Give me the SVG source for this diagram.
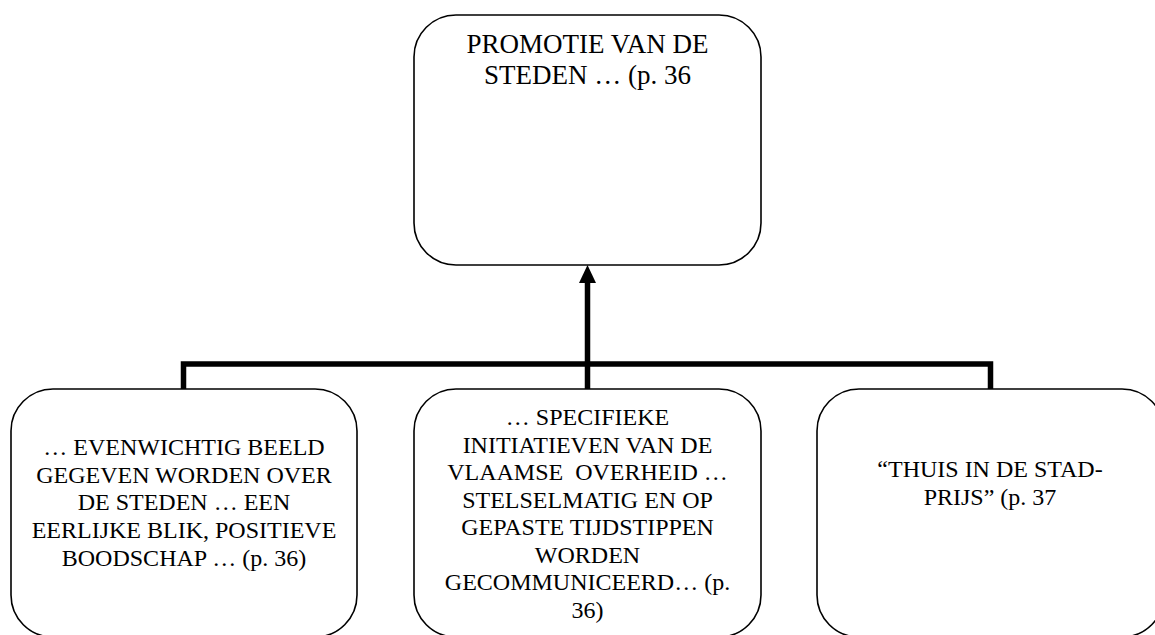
<svg xmlns="http://www.w3.org/2000/svg" width="1155" height="635" viewBox="0 0 1155 635">
<style>
.box{fill:#fff;stroke:#000;stroke-width:1.6}
text{font-family:'Liberation Serif','Times New Roman',serif;fill:#000;text-anchor:middle;white-space:pre}
.t1{font-size:27px}
.t2{font-size:24px}
.conn{fill:none;stroke:#000;stroke-width:5.5}
</style>
<defs>
<marker id="ah" markerUnits="userSpaceOnUse" markerWidth="18" markerHeight="18" viewBox="0 0 18 18" refX="8" refY="9" orient="auto">
<path d="M0,0.5 L18,9 L0,17.5 z" fill="#000"/>
</marker>
</defs>
<g id="connectors">
<path class="conn" d="M183.5,389 V364 H990.5 V389"/>
<path class="conn" d="M587.5,389 V275" marker-end="url(#ah)"/>
</g>
<g id="top">
<rect class="box" x="414" y="15" width="347" height="250" rx="42" ry="42"/>
<text class="t1" x="587.5" y="53">PROMOTIE VAN DE</text>
<text class="t1" x="587.5" y="84">STEDEN … (p. 36</text>
</g>
<g id="left">
<rect class="box" x="11" y="389" width="346" height="248" rx="42" ry="42"/>
<text class="t2" x="184" y="455">… EVENWICHTIG BEELD</text>
<text class="t2" x="184" y="482.7">GEGEVEN WORDEN OVER</text>
<text class="t2" x="184" y="510.4">DE STEDEN … EEN</text>
<text class="t2" x="184" y="538">EERLIJKE BLIK, POSITIEVE</text>
<text class="t2" x="184" y="565.7">BOODSCHAP … (p. 36)</text>
</g>
<g id="middle">
<rect class="box" x="414" y="389" width="347" height="248" rx="42" ry="42"/>
<text class="t2" x="587.5" y="425">… SPECIFIEKE</text>
<text class="t2" x="587.5" y="452.5">INITIATIEVEN VAN DE</text>
<text class="t2" x="587.5" y="480">VLAAMSE  OVERHEID …</text>
<text class="t2" x="587.5" y="507.5">STELSELMATIG EN OP</text>
<text class="t2" x="587.5" y="535">GEPASTE TIJDSTIPPEN</text>
<text class="t2" x="587.5" y="562.5">WORDEN</text>
<text class="t2" x="587.5" y="590">GECOMMUNICEERD… (p.</text>
<text class="t2" x="587.5" y="617.5">36)</text>
</g>
<g id="right">
<rect class="box" x="817" y="389" width="347" height="248" rx="42" ry="42"/>
<text class="t2" x="990" y="477">“THUIS IN DE STAD-</text>
<text class="t2" x="990" y="505">PRIJS” (p. 37</text>
</g>
</svg>
